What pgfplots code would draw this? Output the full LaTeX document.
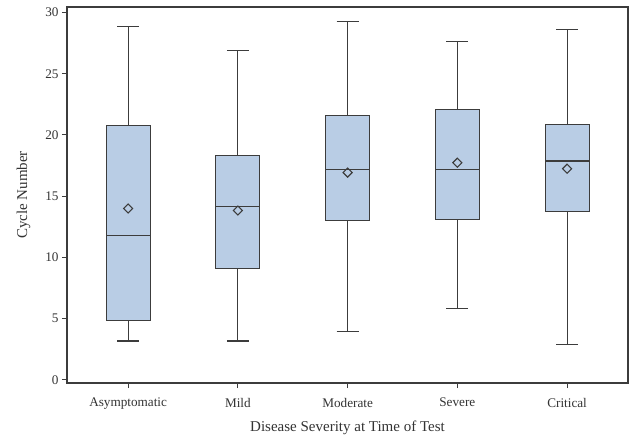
\documentclass[border=0pt]{standalone}
\usepackage{pgfplots}
\pgfplotsset{compat=1.18}
\usepgfplotslibrary{statistics}
\usepackage{fontspec}
\setmainfont{Liberation Serif}
\definecolor{boxfill}{RGB}{185,205,229}
\definecolor{boxline}{RGB}{60,60,60}
\begin{document}
\begin{tikzpicture}
\begin{axis}[
  scale only axis,
  width=561pt, height=376pt,
  xmin=-0.557, xmax=4.555,
  ymin=-0.25, ymax=30.45,
  xtick={0,1,2,3,4},
  xticklabels={Asymptomatic,Mild,Moderate,Severe,Critical},
  ytick={0,5,10,15,20,25,30},
  tick pos=left,
  tick align=outside,
  major tick length=5pt,
  axis line style={boxline, line width=1.3pt},
  tick style={boxline, line width=1pt},
  /pgf/number format/assume math mode=true,
  ticklabel style={font=\fontsize{13.2}{15}\selectfont, text=black!80},
  xticklabel style={yshift=-6.5pt},
  label style={font=\fontsize{15}{17}\selectfont, text=black!80},
  xlabel={Disease Severity at Time of Test},
  ylabel={Cycle Number},
  xlabel style={yshift=-4pt},
  ylabel style={yshift=8pt},
  boxplot/draw direction=y,
  boxplot/box extend=0.4,
  boxplot/whisker extend=0.2,
  clip=false,
]
\coordinate (sw) at (rel axis cs:0,0);
\coordinate (ne) at (rel axis cs:1,1);
\addplot+[boxplot prepared={draw position=0, lower whisker=3.18, lower quartile=4.89, median=11.8, upper quartile=20.79, upper whisker=28.88}, draw=boxline, fill=boxfill, line width=1.1pt, mark=none, solid] coordinates {};
\addplot+[boxplot prepared={draw position=1, lower whisker=3.18, lower quartile=9.1, median=14.16, upper quartile=18.3, upper whisker=26.9}, draw=boxline, fill=boxfill, line width=1.1pt, mark=none, solid] coordinates {};
\addplot+[boxplot prepared={draw position=2, lower whisker=3.94, lower quartile=13.04, median=17.17, upper quartile=21.6, upper whisker=29.27}, draw=boxline, fill=boxfill, line width=1.1pt, mark=none, solid] coordinates {};
\addplot+[boxplot prepared={draw position=3, lower whisker=5.87, lower quartile=13.07, median=17.17, upper quartile=22.07, upper whisker=27.64}, draw=boxline, fill=boxfill, line width=1.1pt, mark=none, solid] coordinates {};
\addplot+[boxplot prepared={draw position=4, lower whisker=2.91, lower quartile=13.72, median=17.88, upper quartile=20.82, upper whisker=28.64}, draw=boxline, fill=boxfill, line width=1.1pt, mark=none, solid] coordinates {};
\addplot[only marks, mark=square, mark size=3.2pt, mark options={rotate=45, draw=boxline, fill=boxfill, line width=1.1pt}] coordinates {(0,14.0) (1,13.83) (2,16.93) (3,17.74) (4,17.25)};
\end{axis}
\path (sw) ++(-67pt,-52pt);
\path (ne) ++(2pt,7pt);
\end{tikzpicture}
\end{document}
